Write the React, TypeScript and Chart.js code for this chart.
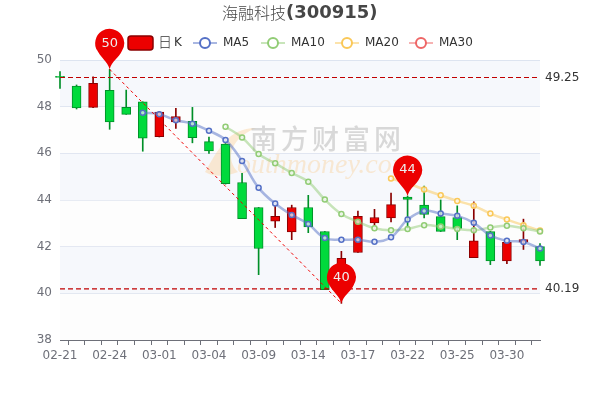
import { useEffect, useRef } from 'react'
import { Chart, registerables } from 'chart.js'
import type { Plugin } from 'chart.js'

Chart.register(...registerables)

const dates = ['02-21', '02-22', '02-23', '02-24', '02-25', '02-28', '03-01', '03-02', '03-03', '03-04', '03-07', '03-08', '03-09', '03-10', '03-11', '03-14', '03-15', '03-16', '03-17', '03-18', '03-21', '03-22', '03-23', '03-24', '03-25', '03-28', '03-29', '03-30', '03-31', '04-01']

// body ends + wick ends, red = closed up, green = closed down
const open = [49.3, 48.88, 47.97, 48.7, 47.97, 48.21, 46.71, 47.35, 47.37, 46.5, 46.4, 44.75, 43.68, 43.09, 42.63, 43.68, 42.65, 40.3, 41.75, 43.02, 43.23, 44.13, 43.78, 43.29, 43.25, 41.53, 42.65, 41.39, 42.19, 42.0]
const close = [49.25, 47.95, 49.0, 47.35, 47.67, 46.65, 47.77, 47.58, 46.67, 46.1, 44.7, 43.2, 41.92, 43.3, 43.68, 42.85, 40.16, 41.5, 43.3, 43.25, 43.8, 44.02, 43.38, 42.65, 42.78, 42.25, 41.39, 42.19, 42.3, 41.39]
const high = [49.5, 48.93, 49.28, 49.6, 48.71, 48.21, 47.8, 47.93, 47.97, 46.7, 46.42, 45.14, 43.68, 43.73, 43.78, 44.2, 42.65, 41.8, 43.52, 43.6, 44.3, 44.17, 44.6, 44.0, 43.75, 43.92, 42.65, 42.2, 43.18, 42.13]
const low = [48.78, 47.9, 47.96, 47.03, 47.67, 46.09, 46.7, 47.07, 46.45, 46.0, 44.68, 43.2, 40.8, 42.82, 42.3, 42.6, 40.16, 39.57, 41.75, 42.9, 43.06, 42.8, 43.23, 42.65, 42.3, 41.53, 41.23, 41.27, 41.88, 41.2]

const ma5 = [null, null, null, null, null, 47.74, 47.68, 47.42, 47.27, 46.97, 46.57, 45.67, 44.52, 43.85, 43.36, 42.97, 42.37, 42.3, 42.3, 42.21, 42.4, 43.16, 43.53, 43.42, 43.32, 43.02, 42.48, 42.25, 42.2, 41.92]
const ma10 = [null, null, null, null, null, null, null, null, null, null, 47.14, 46.68, 45.97, 45.57, 45.16, 44.78, 44.02, 43.4, 43.07, 42.79, 42.7, 42.76, 42.92, 42.86, 42.76, 42.7, 42.82, 42.9, 42.79, 42.65]
const ma20 = [null, null, null, null, null, null, null, null, null, null, null, null, null, null, null, null, null, null, null, null, 44.92, 44.72, 44.45, 44.2, 43.96, 43.75, 43.42, 43.16, 42.92, 42.69]
const ma30 = dates.map(() => null)

const maxClose = 49.25
const minClose = 40.19
const pins = [
  { index: 3, value: 49.6, label: '50' },
  { index: 17, value: 39.57, label: '40' },
  { index: 21, value: 44.17, label: '44' },
]
const trend = dates.map((_, i) => (i === 3 ? 49.6 : i === 17 ? 39.57 : null))

const legendItems = [
  { name: 'MA5', color: '#5470c6', x: 193 },
  { name: 'MA10', color: '#91cc75', x: 261 },
  { name: 'MA20', color: '#fac858', x: 335 },
  { name: 'MA30', color: '#ee6666', x: 409 },
]

const RED = '#ec0000'
const RED_DARK = '#8a0000'
const GREEN = '#00da3c'
const GREEN_DARK = '#008f28'
const isUp = (i: number) => close[i] >= open[i]
const LATIN = '"DejaVu Sans", sans-serif'

const backdrop: Plugin = {
  id: 'backdrop',
  beforeDatasetsDraw(chart) {
    const { ctx, scales, chartArea } = chart
    const y = scales.y
    ctx.save()
    // alternating bands
    for (let v = 38; v < 50; v += 2) {
      const top = y.getPixelForValue(v + 2)
      const bottom = y.getPixelForValue(v)
      ctx.fillStyle = (v - 38) % 4 === 0 ? 'rgba(250,250,250,0.3)' : 'rgba(210,219,238,0.2)'
      ctx.fillRect(chartArea.left, top, chartArea.width, bottom - top)
    }
    // watermark
    ctx.fillStyle = 'rgba(250,210,160,0.45)'
    ctx.beginPath()
    ctx.moveTo(256, 128)
    ctx.bezierCurveTo(228, 128, 218, 150, 205, 172)
    ctx.bezierCurveTo(215, 178, 228, 176, 238, 172)
    ctx.bezierCurveTo(226, 160, 228, 140, 256, 128)
    ctx.fill()
    ctx.textBaseline = 'middle'
    ctx.textAlign = 'left'
    ctx.fillStyle = 'rgba(185,185,185,0.55)'
    ctx.font = '500 27px "Noto Sans CJK SC"'
    ;(ctx as any).letterSpacing = '4px'
    ctx.fillText('南方财富网', 250, 139)
    ;(ctx as any).letterSpacing = '0px'
    ctx.fillStyle = 'rgba(248,210,160,0.45)'
    ctx.font = 'italic 28px "Liberation Serif"'
    ctx.fillText('outhmoney.com', 237, 166)
    ctx.restore()
  },
}

const overlay: Plugin = {
  id: 'overlay',
  afterDatasetsDraw(chart) {
    const { ctx, scales } = chart
    const x = scales.x
    const y = scales.y
    ctx.save()
    // mark line labels
    ctx.fillStyle = '#333'
    ctx.font = `12px ${LATIN}`
    ctx.textAlign = 'left'
    ctx.textBaseline = 'middle'
    ctx.fillText(maxClose.toFixed(2), 545, y.getPixelForValue(maxClose))
    ctx.fillText(minClose.toFixed(2), 545, y.getPixelForValue(minClose))
    // pins
    pins.forEach(p => {
      const px = x.getPixelForValue(p.index)
      const py = y.getPixelForValue(p.value)
      const cy = py - 26
      ctx.fillStyle = RED
      ctx.beginPath()
      ctx.arc(px, cy, 14.5, Math.PI * 0.82, Math.PI * 0.18)
      ctx.bezierCurveTo(px + 9, cy + 15, px + 2, cy + 18, px, py)
      ctx.bezierCurveTo(px - 2, cy + 18, px - 9, cy + 15, px - 13.8, cy + 4.5)
      ctx.closePath()
      ctx.fill()
      ctx.fillStyle = '#eee'
      ctx.font = `13px ${LATIN}`
      ctx.textAlign = 'center'
      ctx.fillText(p.label, px, cy)
    })
    // title
    ctx.textAlign = 'left'
    ctx.fillStyle = '#464646'
    ctx.font = '300 16px "Noto Sans CJK SC"'
    ctx.fillText('海融科技', 222, 13)
    ctx.font = `bold 18px ${LATIN}`
    ctx.fillText('(300915)', 286, 13)
    // legend
    ctx.fillStyle = RED
    ctx.strokeStyle = RED_DARK
    ctx.lineWidth = 1.5
    ctx.beginPath()
    ctx.roundRect(128, 36, 25, 14, 3)
    ctx.fill()
    ctx.stroke()
    ctx.fillStyle = '#333'
    ctx.font = '300 14px "Noto Sans CJK SC"'
    ctx.fillText('日', 158, 42)
    ctx.font = `12px ${LATIN}`
    ctx.fillText('K', 174, 43)
    legendItems.forEach(item => {
      ctx.strokeStyle = item.color
      ctx.globalAlpha = 0.5
      ctx.lineWidth = 2
      ctx.beginPath()
      ctx.moveTo(item.x, 43)
      ctx.lineTo(item.x + 24, 43)
      ctx.stroke()
      ctx.globalAlpha = 1
      ctx.fillStyle = '#fff'
      ctx.beginPath()
      ctx.arc(item.x + 12, 43, 5, 0, Math.PI * 2)
      ctx.fill()
      ctx.stroke()
      ctx.fillStyle = '#333'
      ctx.fillText(item.name, item.x + 30, 43)
    })
    ctx.restore()
  },
}

function maLine(label: string, data: (number | null)[], color: string, rgb: string) {
  return {
    type: 'line' as const,
    label,
    data,
    borderColor: `rgba(${rgb},0.5)`,
    borderWidth: 2.5,
    tension: 0.4,
    pointRadius: 2.5,
    pointBorderWidth: 1.5,
    pointBorderColor: color,
    pointBackgroundColor: 'rgba(255,255,255,0.65)',
    order: 1,
    clip: false as const,
  }
}

export default function App() {
  const canvasRef = useRef<HTMLCanvasElement>(null)

  useEffect(() => {
    if (!canvasRef.current) return
    document.body.style.margin = '0'

    const chart = new Chart(canvasRef.current, {
      type: 'bar',
      data: {
        labels: dates,
        datasets: [
          {
            type: 'line', label: 'max', data: dates.map(() => maxClose),
            borderColor: '#c00000', borderWidth: 1.2, borderDash: [5, 3], pointRadius: 0, order: 0,
          },
          {
            type: 'line', label: 'min', data: dates.map(() => minClose),
            borderColor: '#c00000', borderWidth: 1.2, borderDash: [5, 3], pointRadius: 0, order: 0,
          },
          {
            type: 'line', label: 'trend', data: trend, spanGaps: true,
            borderColor: '#f00000', borderWidth: 1, borderDash: [3, 3], pointRadius: 0, order: 0,
          },
          maLine('MA5', ma5, '#5470c6', '84,112,198'),
          maLine('MA10', ma10, '#91cc75', '145,204,117'),
          maLine('MA20', ma20, '#fac858', '250,200,88'),
          maLine('MA30', ma30, '#ee6666', '238,102,102'),
          {
            type: 'bar', label: 'body', data: dates.map((_, i) => [open[i], close[i]]) as any,
            barThickness: 9, grouped: false, borderSkipped: false, borderWidth: 1,
            backgroundColor: dates.map((_, i) => (isUp(i) ? RED : GREEN)),
            borderColor: dates.map((_, i) => (isUp(i) ? RED_DARK : GREEN_DARK)),
            order: 2, clip: false,
          },
          {
            type: 'bar', label: 'wick', data: dates.map((_, i) => [low[i], high[i]]) as any,
            barThickness: 1, grouped: false, borderWidth: 0,
            backgroundColor: dates.map((_, i) => (isUp(i) ? RED_DARK : GREEN_DARK)),
            order: 3, clip: false,
          },
        ],
      },
      options: {
        responsive: false,
        animation: false,
        layout: { padding: { top: 60, right: 60, left: 0, bottom: 0 } },
        plugins: { legend: { display: false }, title: { display: false }, tooltip: { enabled: false } },
        scales: {
          x: {
            type: 'category',
            offset: false,
            afterFit: (s: any) => { s.height = 60 },
            grid: { display: true, drawOnChartArea: false, color: '#6e7079', tickLength: 5, tickColor: '#6e7079' },
            border: { color: '#6e7079' },
            ticks: {
              autoSkip: false, maxRotation: 0, minRotation: 0, color: '#6e7079', padding: 4,
              font: { family: 'DejaVu Sans', size: 12 },
              callback: (_v: any, i: number) => (i % 3 === 0 ? dates[i] : ''),
            },
          },
          y: {
            min: 38,
            max: 50,
            afterFit: (s: any) => { s.width = 60 },
            grid: { color: '#e0e6f1', drawTicks: false },
            border: { display: false },
            ticks: { stepSize: 2, color: '#6e7079', padding: 8, font: { family: 'DejaVu Sans', size: 12 } },
          },
        },
      },
      plugins: [backdrop, overlay],
    })

    return () => chart.destroy()
  }, [])

  return <canvas ref={canvasRef} width={600} height={400} style={{ display: 'block' }} />
}
